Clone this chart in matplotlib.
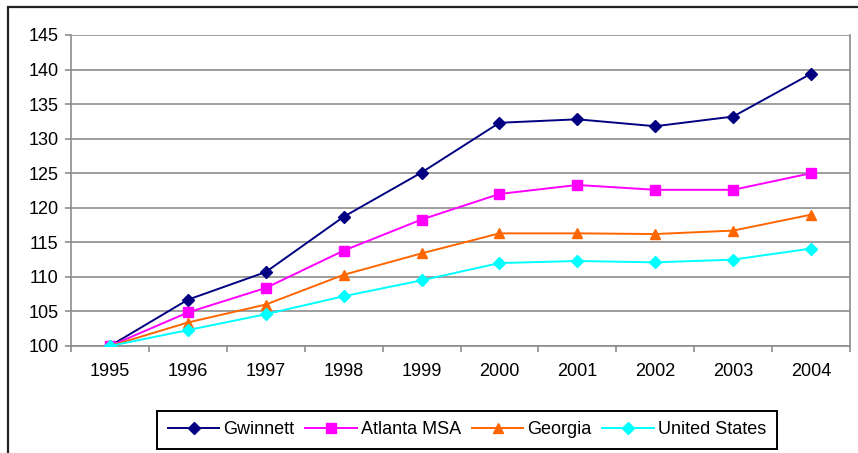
import matplotlib
matplotlib.use("Agg")
import matplotlib.pyplot as plt
from matplotlib.patches import Rectangle

years = ["1995", "1996", "1997", "1998", "1999", "2000", "2001", "2002", "2003", "2004"]
gwinnett = [100, 106.7, 110.7, 118.7, 125.1, 132.3, 132.8, 131.8, 133.2, 139.4]
atlanta_msa = [100, 104.85, 108.4, 113.8, 118.3, 122.0, 123.3, 122.6, 122.6, 125.0]
georgia = [100, 103.4, 106.0, 110.3, 113.4, 116.3, 116.3, 116.2, 116.7, 119.0]
united_states = [100, 102.3, 104.6, 107.2, 109.5, 112.0, 112.3, 112.1, 112.5, 114.1]
y_ticks = [100, 105, 110, 115, 120, 125, 130, 135, 140, 145]

plt.rcParams["font.family"] = ["Liberation Sans", "DejaVu Sans"]

fig = plt.figure(figsize=(8.58, 4.53), dpi=100)
W, H = 858, 453

# outer chart frame
fig.patches.append(Rectangle((8 / W, -0.1), 1.2, 1 - 7 / H + 0.1,
                             transform=fig.transFigure, fill=False,
                             edgecolor="#222222", linewidth=1.6))

ax = fig.add_axes([71 / W, (H - 346) / H, (850 - 71) / W, (346 - 35) / H])

x = [i + 0.5 for i in range(len(years))]
series = [
    ("Gwinnett", gwinnett, "#000080", "D", 6.5),
    ("Atlanta MSA", atlanta_msa, "#FF00FF", "s", 6.5),
    ("Georgia", georgia, "#FF6600", "^", 7.5),
    ("United States", united_states, "#00FFFF", "D", 6.5),
]
for name, vals, col, mk, ms in series:
    ax.plot(x, vals, color=col, marker=mk, markersize=ms, linewidth=1.4,
            label=name, markeredgecolor=col, markerfacecolor=col, zorder=3)

ax.set_xlim(0, len(years))
ax.set_ylim(100, 145)
ax.set_yticks(y_ticks)
ax.set_yticklabels([str(v) for v in y_ticks])
ax.yaxis.grid(True, color="#8c8c8c", linewidth=1.2)
ax.set_axisbelow(True)

# category boundaries carry the tick marks, labels sit at centers
ax.set_xticks(range(len(years) + 1))
ax.set_xticklabels([])
ax.set_xticks(x, minor=True)
ax.set_xticklabels(years, minor=True)
ax.tick_params(axis="x", which="major", length=4, width=1.2, color="#8c8c8c",
               direction="out")
ax.tick_params(axis="x", which="minor", length=0, pad=12, labelsize=13)
ax.tick_params(axis="y", length=4, width=1.2, color="#8c8c8c", pad=5,
               labelsize=13)

for side in ["left", "right", "bottom"]:
    ax.spines[side].set_color("#8c8c8c")
    ax.spines[side].set_linewidth(1.2)
ax.spines["top"].set_visible(False)

leg = fig.legend(loc="center", bbox_to_anchor=(467 / W, 1 - 430 / H),
                 ncol=4, fontsize=13, frameon=True, fancybox=False,
                 edgecolor="black", framealpha=1, handlelength=2.85,
                 handletextpad=0.22, columnspacing=0.6, borderpad=0.6,
                 borderaxespad=0)
leg.get_frame().set_linewidth(1.4)

fig.savefig("out.png", dpi=100)
